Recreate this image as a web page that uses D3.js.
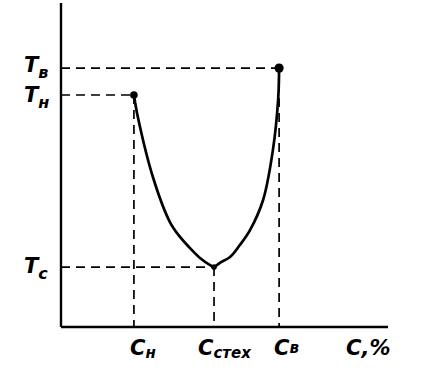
<!DOCTYPE html>
<html><head><meta charset="utf-8">
<script src="https://cdn.jsdelivr.net/npm/d3@7"></script>
<style>html,body{margin:0;padding:0;background:#fff;}svg{display:block;}</style>
</head><body>
<script>
// Data (abstract units)
const curveX = [2.23, 2.35, 2.81, 3.33, 3.64, 3.94, 4.25, 4.56, 4.68, 4.86, 5.17, 5.47, 5.78, 6.18, 6.48, 6.64, 6.67];
const curveY = [7.16, 6.48, 4.63, 3.24, 2.78, 2.44, 2.13, 1.91, 1.85, 1.98, 2.16, 2.53, 2.99, 3.92, 5.46, 7.01, 7.99];
const keyC = [2.23, 4.68, 6.67];
const keyT = [7.16, 1.85, 7.99];
const tLabels = ["н", "c", "в"];
const xLabels = ["н", "стех", "в"];

const W = 421, H = 379;
const svg = d3.select("body").append("svg").attr("width", W).attr("height", H);
const x = d3.scaleLinear().domain([0, 10]).range([61, 388]);
const y = d3.scaleLinear().domain([0, 10]).range([327, 3]);

const font = "'DejaVu Sans', sans-serif";

// dashed guide lines
const g = svg.append("g").attr("stroke", "#000").attr("stroke-width", 1.7)
  .attr("stroke-dasharray", "9,6").attr("fill", "none");
keyC.forEach((c, i) => {
  g.append("line").attr("x1", x(0)).attr("x2", x(c)).attr("y1", y(keyT[i])).attr("y2", y(keyT[i]));
  g.append("line").attr("x1", x(c)).attr("x2", x(c)).attr("y1", y(keyT[i])).attr("y2", y(0));
});

// axes
svg.append("line").attr("x1", x(0)).attr("x2", x(0)).attr("y1", y(0)).attr("y2", y(10))
  .attr("stroke", "#000").attr("stroke-width", 2.4);
svg.append("line").attr("x1", x(0)).attr("x2", x(10)).attr("y1", y(0)).attr("y2", y(0))
  .attr("stroke", "#000").attr("stroke-width", 2.4);

// curve
const pts = curveX.map((v, i) => [v, curveY[i]]);
svg.append("path").datum(pts)
  .attr("d", d3.line().x(d => x(d[0])).y(d => y(d[1])).curve(d3.curveCatmullRom.alpha(0.5)))
  .attr("fill", "none").attr("stroke", "#000").attr("stroke-width", 2.7);

// points
const radii = [3.8, 2.8, 4.6];
keyC.forEach((c, i) => {
  svg.append("circle").attr("cx", x(c)).attr("cy", y(keyT[i])).attr("r", radii[i]).attr("fill", "#000");
});

// T labels on left
const tPos = [102, 273, 72];
tLabels.forEach((s, i) => {
  const t = svg.append("text").attr("x", 24).attr("y", tPos[i])
    .attr("font-family", font).attr("font-style", "italic").attr("font-weight", "bold")
    .attr("font-size", 21).attr("fill", "#000");
  t.append("tspan").text("T");
  t.append("tspan").attr("font-size", 16).attr("dy", 6).text(s);
});

// C labels at bottom
const cStart = [130, 198, 274];
xLabels.forEach((s, i) => {
  const t = svg.append("text").attr("x", cStart[i]).attr("y", 355)
    .attr("font-family", font).attr("font-style", "italic").attr("font-weight", "bold")
    .attr("font-size", 21).attr("fill", "#000");
  t.append("tspan").text("C");
  t.append("tspan").attr("font-size", 15).attr("dy", i === 2 ? -2 : 3).text(s);
});
svg.append("text").attr("x", 346).attr("y", 355)
  .attr("font-family", font).attr("font-style", "italic").attr("font-weight", "bold")
  .attr("font-size", 21).attr("fill", "#000")
  .text("C,%");
</script>
</body></html>
